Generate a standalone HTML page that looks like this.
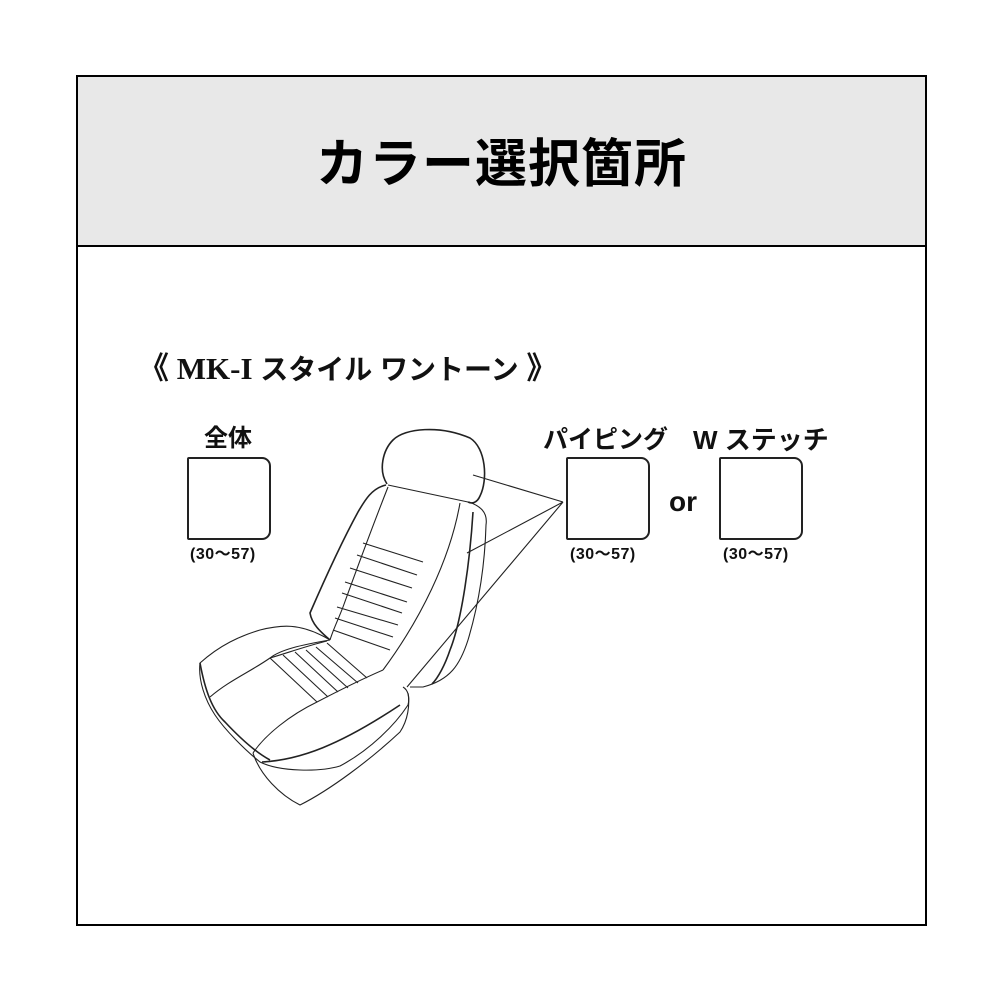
<!DOCTYPE html>
<html><head><meta charset="utf-8"><style>
html,body{margin:0;padding:0;background:#fff;}
body{width:1000px;height:1000px;position:relative;overflow:hidden;font-family:"Liberation Sans","Noto Sans CJK JP",sans-serif;}
.frame{position:absolute;left:76px;top:75px;width:847px;height:847px;border:2px solid #000;}
.head{position:absolute;left:0;top:0;width:847px;height:168px;background:#e8e8e8;border-bottom:2px solid #000;}
.title{position:absolute;left:0;width:847px;top:58px;text-align:center;font-size:52px;font-weight:bold;line-height:60px;letter-spacing:1px;}
.t{position:absolute;font-weight:bold;white-space:nowrap;color:#111;}
.box{position:absolute;width:80px;height:79px;border:2px solid #222;border-radius:2px 9px 9px 2px;}
.n{font-size:16px;line-height:20px;letter-spacing:0.5px}
</style></head><body>
<div class="frame"><div class="head"><div class="title">カラー選択箇所</div></div></div>

<div class="t" style="left:138px;top:350px;font-size:31px;font-family:'Liberation Serif','Noto Sans CJK JP',serif;line-height:38px;">《 MK-I <span style="font-family:'Liberation Sans','Noto Sans CJK JP',sans-serif;font-size:28px">スタイル ワントーン</span> 》</div>

<div class="t" style="left:204px;top:425px;font-size:24px;line-height:28px">全体</div>
<div class="box" style="left:187px;top:457px"></div>
<div class="t n" style="left:190px;top:545px">(30〜57)</div>

<div class="t" style="left:543px;top:426px;font-size:25px;line-height:28px">パイピング</div>
<div class="box" style="left:566px;top:457px"></div>
<div class="t n" style="left:570px;top:545px">(30〜57)</div>

<div class="t" style="left:669px;top:486px;font-size:28px;line-height:32px">or</div>

<div class="t" style="left:693px;top:426px;font-size:26px;line-height:28px">W ステッチ</div>
<div class="box" style="left:719px;top:457px"></div>
<div class="t n" style="left:723px;top:545px">(30〜57)</div>

<svg style="position:absolute;left:0;top:0" width="1000" height="1000" fill="none" stroke="#222" stroke-width="1.1" stroke-linejoin="round">
<path d="M387,484 C378,470 383,450 393,440 C405,428 440,425 470,438 C486,448 488,480 480,496 C477,503 472,504 468,502" stroke-width="1.6"/>
<path d="M388,485 L468,502"/>
<path d="M386,485 C372,488 365,500 358,512 C340,545 320,590 310,613 C312,625 322,633 330,640" stroke-width="1.6"/>
<path d="M388,487 C375,520 360,560 343,607 C338,620 333,630 330,640"/>
<path d="M460,503 C450,560 420,620 383,670"/>
<path d="M469,502 C480,506 488,512 486,525 C485,560 480,600 468,640 C460,665 450,680 423,687 L410,687"/>
<path d="M473,512 C470,560 462,620 450,650 C445,665 438,678 432,684" stroke-width="1.6"/>
<path d="M363,543 L423,562 M357,555 L417,575 M350,568 L412,588 M345,582 L407,602 M342,593 L402,613 M337,607 L398,625 M335,618 L393,637 M333,630 L390,650"/>
<path d="M330,640 C300,622 280,625 260,630 C240,636 220,645 200,663 C198,680 205,700 215,715 C225,730 245,750 260,762 C280,772 320,772 340,766 C370,750 395,725 408,705 C410,697 408,690 403,687"/>
<path d="M200,663 C205,690 212,710 225,722 C240,738 255,752 270,760" stroke-width="1.6"/>
<path d="M210,697 C230,680 250,672 270,658 C290,652 310,645 327,641"/>
<path d="M270,658 C280,650 300,645 330,640"/>
<path d="M383,670 C360,680 340,690 317,702 C290,715 265,735 253,753"/>
<path d="M253,753 C260,775 280,795 300,805 C330,790 370,760 400,732 C408,720 410,705 408,693"/>
<path d="M262,762 C300,760 340,745 400,705" stroke-width="1.6"/>
<path d="M270,658 L317,702 M283,655 L328,697 M295,652 L338,692 M306,650 L348,688 M316,647 L358,683 M327,643 L367,678"/>
<path d="M563,502 L473,475 M563,502 L467,553 M563,502 L407,687"/>
</svg>
</body></html>
